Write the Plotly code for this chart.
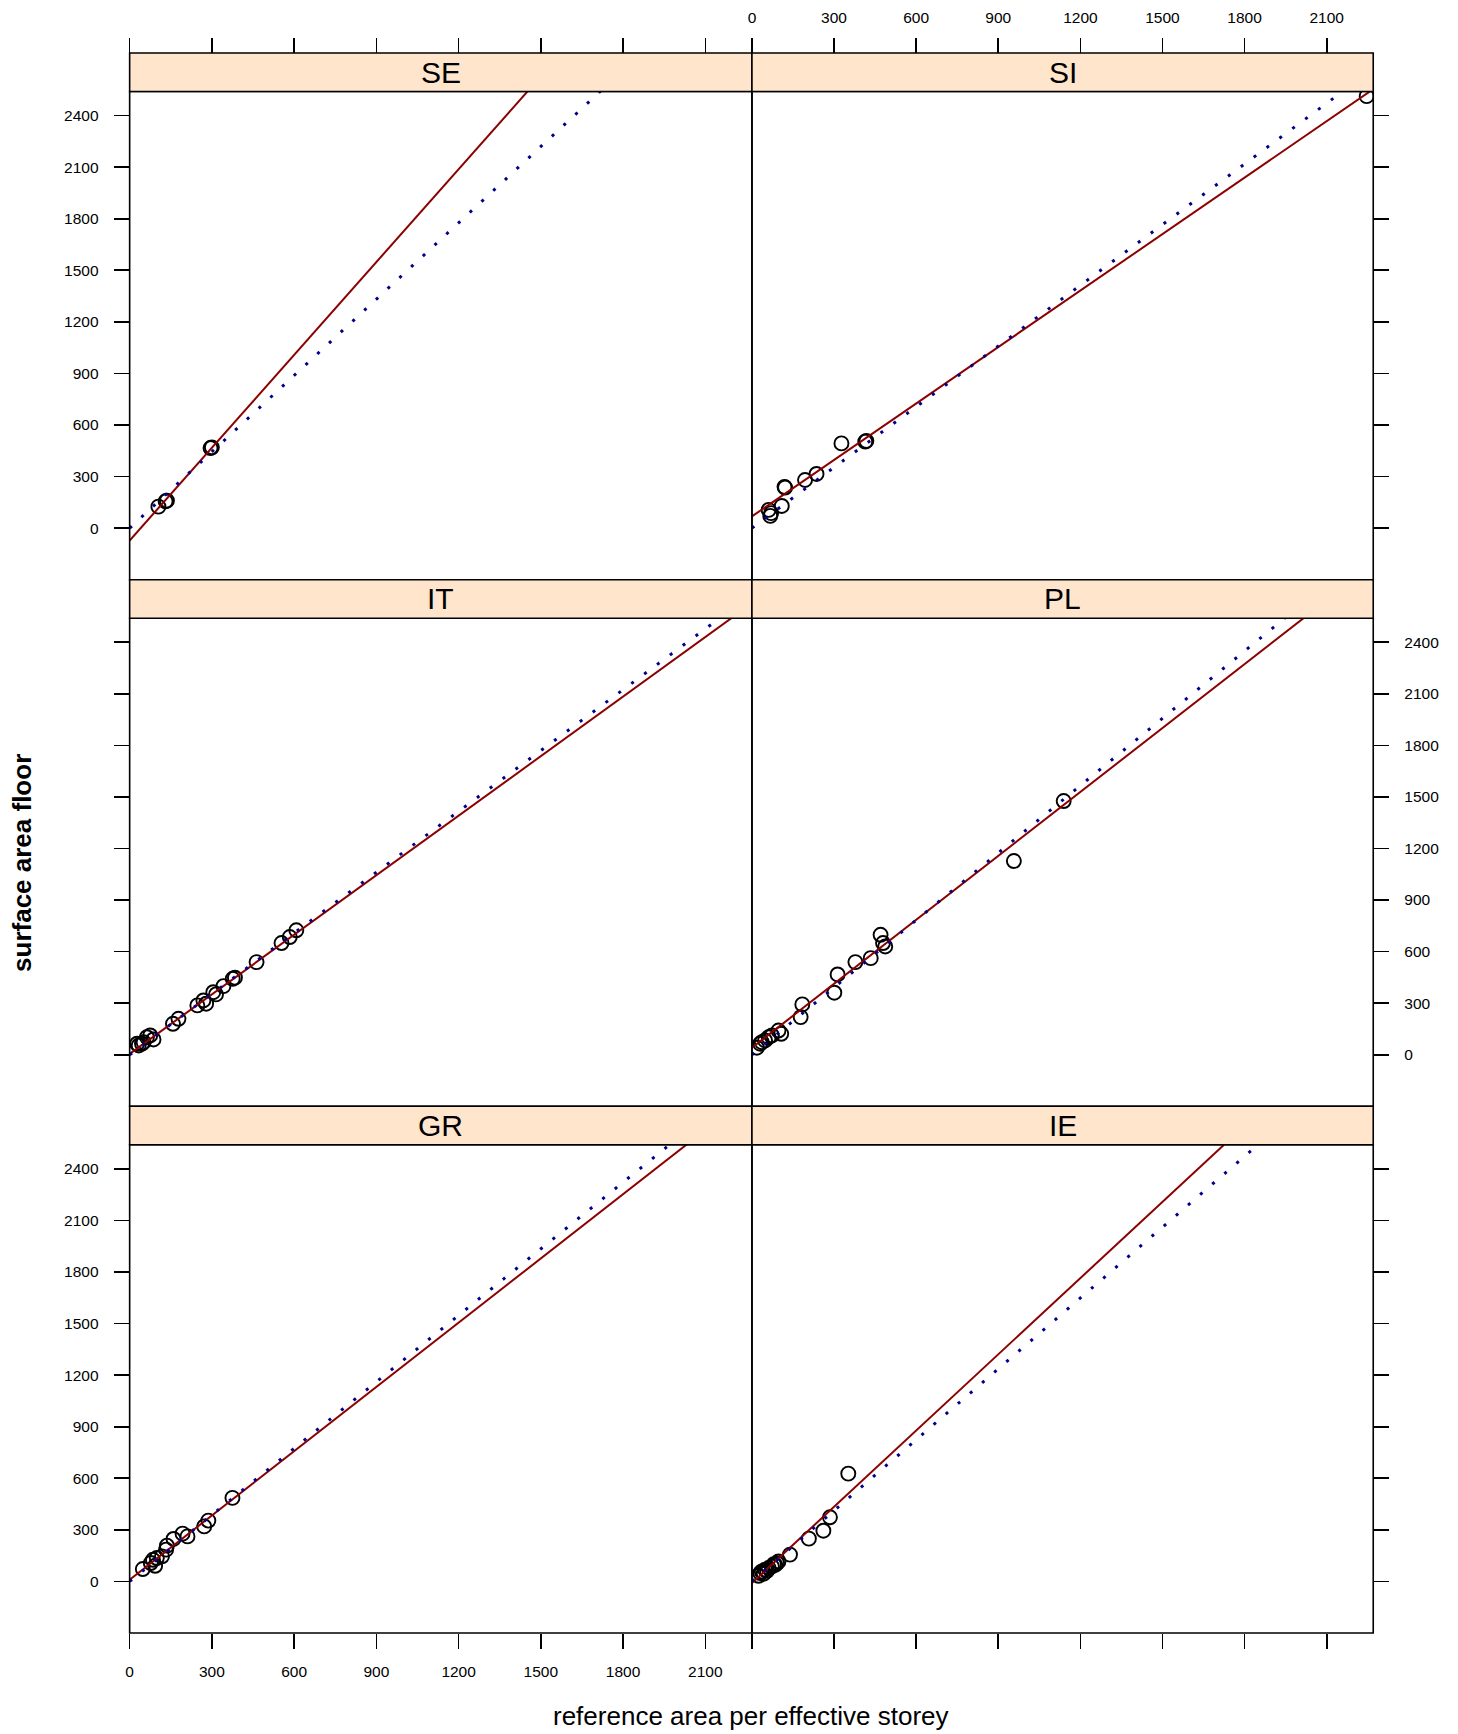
import plotly.graph_objects as go

W, H = 1458, 1734

# ---------------- data ----------------
panels = ["SE", "SI", "IT", "PL", "GR", "IE"]

SE_x = [300, 295, 105, 136, 131]
SE_y = [470, 466, 125, 160, 156]

SI_x = [61, 70, 67, 109, 121, 119, 194, 236, 327, 418, 414, 2246]
SI_y = [106, 87, 71, 129, 236, 240, 280, 315, 493, 507, 503, 2513]

IT_x = [45, 63, 87, 51, 33, 75, 27, 158, 178, 247, 269, 279, 305, 315, 342, 376, 384, 463, 554, 584, 608]
IT_y = [64, 102, 89, 73, 54, 112, 64, 180, 209, 287, 316, 297, 364, 351, 399, 442, 448, 539, 650, 685, 724]

PL_x = [1139, 957, 470, 479, 487, 434, 378, 313, 301, 184, 178, 97, 107, 61, 48, 30, 18, 36, 73]
PL_y = [1476, 1127, 698, 650, 630, 562, 539, 467, 361, 293, 219, 141, 122, 102, 83, 64, 41, 73, 112]

GR_x = [375, 287, 272, 211, 193, 160, 136, 133, 118, 99, 85, 77, 48, 93]
GR_y = [486, 354, 320, 262, 278, 247, 208, 185, 146, 136, 126, 107, 72, 91]

IE_x = [352, 285, 261, 208, 139, 97, 85, 73, 61, 48, 36, 30, 24, 43, 55, 80, 92]
IE_y = [627, 373, 295, 249, 156, 116, 97, 87, 78, 68, 58, 49, 33, 45, 62, 100, 106]

panel_x = [SE_x, SI_x, IT_x, PL_x, GR_x, IE_x]
panel_y = [SE_y, SI_y, IT_y, PL_y, GR_y, IE_y]

# fitted lines per panel
red_intercept = [-72, 68, 5, 41, 10, -9]
red_slope = [1.800, 1.095, 1.155, 1.240, 1.246, 1.478]
blue_slope = [1.480, 1.177, 1.180, 1.305, 1.290, 1.374]

x_ticks = [0, 300, 600, 900, 1200, 1500, 1800, 2100]
y_ticks = [0, 300, 600, 900, 1200, 1500, 1800, 2100, 2400]
XLIM = [0, 2270]
YLIM = [-300, 2540]

x_title = "reference area per effective storey"
y_title = "surface area floor"

# ---------------- layout geometry (pixels) ----------------
col_px = [(126.0, 750.0), (750.0, 1373.0)]
# (strip top, strip bottom/panel top, panel bottom)
row_px = [(53.0, 91.5, 579.7), (579.7, 618.2, 1106.3), (1106.3, 1144.8, 1633.0)]

def px_x(p):
    return p / W

def px_y(p):
    return 1 - p / H

FONT = "Liberation Sans, Arial, Helvetica, sans-serif"
TICKFONT = dict(family=FONT, size=15.5, color="black")
LW = 1.6
STRIP_FILL = "#FFE5CC"
RED = "#8B0000"
BLUE = "#00008B"

fig = go.Figure()
layout = dict(
    width=W, height=H,
    margin=dict(l=0, r=0, t=0, b=0),
    paper_bgcolor="white", plot_bgcolor="white",
    showlegend=False,
    shapes=[], annotations=[],
    font=dict(family=FONT, color="black"),
)

for i, name in enumerate(panels):
    r, c = divmod(i, 2)
    n = i + 1
    xa = "x" if n == 1 else f"x{n}"
    ya = "y" if n == 1 else f"y{n}"
    xkey = "xaxis" if n == 1 else f"xaxis{n}"
    ykey = "yaxis" if n == 1 else f"yaxis{n}"
    st, pt, pb = row_px[r]
    cl, cr = col_px[c]

    xd = [px_x(cl), px_x(cr)]
    yd = [px_y(pb), px_y(pt)]

    common = dict(showgrid=False, zeroline=False, showline=False,
                  ticks="outside", ticklen=15, tickwidth=LW, tickcolor="black",
                  tickfont=TICKFONT, fixedrange=True)

    xaxis = dict(domain=xd, range=XLIM, autorange=False,
                 tickmode="array", tickvals=x_ticks, ticktext=[str(v) for v in x_ticks],
                 ticklabelstandoff=9, **common)
    if r == 0:
        xaxis.update(side="top", anchor="free", position=px_y(st),
                     showticklabels=(c == 1))
    elif r == 1:
        xaxis.update(anchor=ya, ticks="", showticklabels=False)
    else:
        xaxis.update(side="bottom", anchor=ya, showticklabels=(c == 0))

    yaxis = dict(domain=yd, range=YLIM, autorange=False, anchor=xa,
                 tickmode="array", tickvals=y_ticks, ticktext=[str(v) for v in y_ticks],
                 side="left" if c == 0 else "right",
                 ticklabelstandoff=12, **common)
    yaxis["showticklabels"] = (r, c) in [(0, 0), (1, 1), (2, 0)]

    layout[xkey] = xaxis
    layout[ykey] = yaxis

    # points
    fig.add_trace(go.Scatter(
        x=panel_x[i], y=panel_y[i], mode="markers", xaxis=xa, yaxis=ya,
        marker=dict(symbol="circle-open", size=14, color="black",
                    line=dict(width=1.9, color="black")),
        hoverinfo="skip"))
    # regression line
    fig.add_trace(go.Scatter(
        x=XLIM, y=[red_intercept[i] + red_slope[i] * v for v in XLIM],
        mode="lines", xaxis=xa, yaxis=ya,
        line=dict(color=RED, width=2), hoverinfo="skip"))
    # line through origin (dotted)
    fig.add_trace(go.Scatter(
        x=XLIM, y=[blue_slope[i] * v for v in XLIM],
        mode="lines", xaxis=xa, yaxis=ya,
        line=dict(color=BLUE, width=3, dash="3px,13px"), hoverinfo="skip"))

    dref_x = f"{xa} domain"
    dref_y = f"{ya} domain"
    # panel frame
    layout["shapes"].append(dict(type="rect", xref=dref_x, yref=dref_y,
                                 x0=0, x1=1, y0=0, y1=1,
                                 line=dict(color="black", width=LW),
                                 fillcolor="rgba(0,0,0,0)", layer="above"))
    # strip
    layout["shapes"].append(dict(type="rect", xref=dref_x, yref="paper",
                                 x0=0, x1=1, y0=px_y(pt), y1=px_y(st),
                                 line=dict(color="black", width=LW),
                                 fillcolor=STRIP_FILL, layer="above"))
    layout["annotations"].append(dict(
        text=name, xref=dref_x, yref="paper", x=0.5, y=px_y((st + pt) / 2),
        xanchor="center", yanchor="middle", showarrow=False,
        font=dict(family=FONT, size=30, color="black")))

layout["annotations"].append(dict(
    text=x_title, xref="paper", yref="paper", x=px_x(749.5), y=px_y(1716),
    xanchor="center", yanchor="middle", showarrow=False,
    font=dict(family=FONT, size=26, color="black")))
layout["annotations"].append(dict(
    text=f"<b>{y_title}</b>", xref="paper", yref="paper", x=px_x(18), y=px_y(863),
    xanchor="center", yanchor="middle", showarrow=False, textangle=-90,
    font=dict(family=FONT, size=26, color="black")))

fig.update_layout(**layout)
fig.write_html(
    "out.html",
    config={"displayModeBar": False, "staticPlot": True},
    post_script="document.body.style.margin='0';document.body.style.padding='0';"
                "document.documentElement.style.overflow='hidden';",
)
